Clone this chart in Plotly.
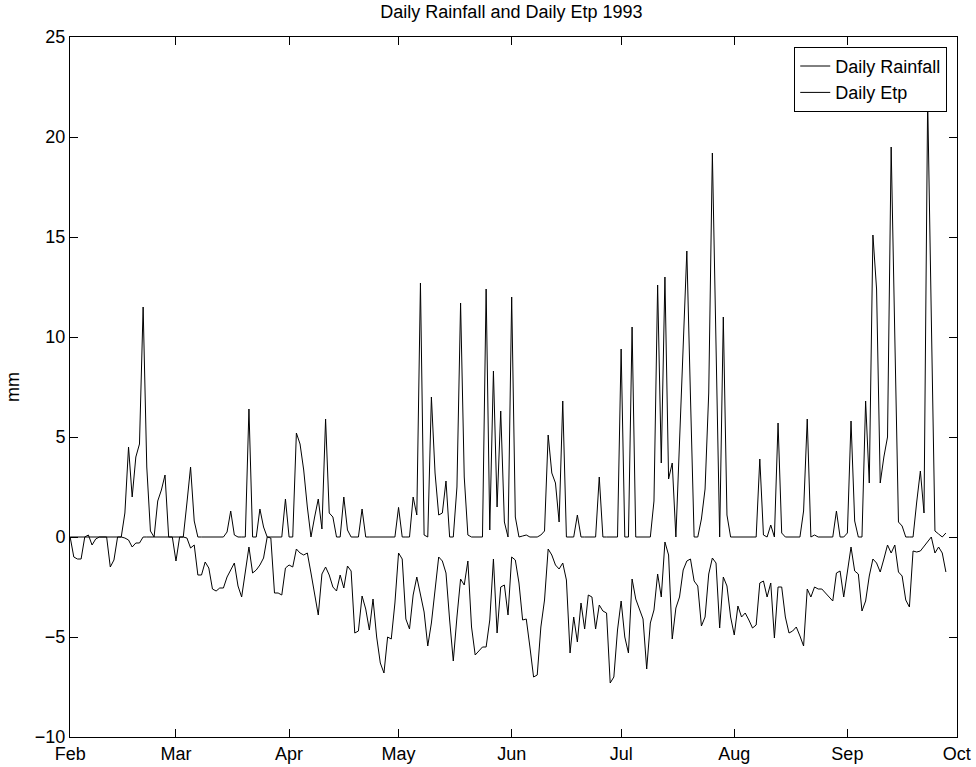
import pandas as pd
import plotly.graph_objects as go

start_date = "1993-01-31"

rainfall = [
    0, 0, 0, 0, 0, 0, 0, 0, 0, 0, 0, 0, 0, 0, 0,
    1.2, 4.5, 2.0, 4.0, 4.65, 11.5, 3.5, 0.3, 0, 1.8, 2.35, 3.1, 0, 0, 0,
    0, 0, 1.7, 3.5, 0.8, 0, 0, 0, 0, 0, 0, 0, 0, 0.25, 1.3,
    0.1, 0, 0, 0, 6.4, 0, 0, 1.4, 0.5, 0, 0, 0, 0, 0, 1.9,
    0, 0, 5.2, 4.65, 3.35, 1.5, 0, 1.0, 1.9, 0.4, 5.9, 1.2, 1.0, 0, 0,
    2.0, 0.35, 0, 0, 0, 1.4, 0, 0, 0, 0, 0, 0, 0, 0, 0,
    1.48, 0, 0, 0, 2.0, 1.1, 12.7, 0.1, 0, 7.0, 3.2, 1.1, 1.2, 2.8, 0,
    0, 2.5, 11.7, 3.0, 0.1, 0, 0, 0, 0, 12.4, 0.35, 8.3, 1.5, 6.3, 0.75,
    0, 12.0, 1.0, 0, 0.05, 0.1, 0, 0, 0, 0.1, 0.3, 5.1, 3.2, 2.7, 0.75,
    6.8, 0, 0, 0, 1.1, 0, 0, 0, 0, 0, 3.0, 0, 0, 0, 0,
    0, 9.4, 0, 0, 10.5, 0, 0, 0, 0, 0, 1.8, 12.6, 3.7, 13.0, 2.9,
    3.7, 0, 5.0, 9.0, 14.3, 7.0, 0, 0, 0.9, 2.4, 7.2, 19.2, 9.0, 0, 11.0,
    1.1, 0, 0, 0, 0, 0, 0, 0, 0, 3.9, 0.1, 0, 0.6, 0, 5.7,
    0.2, 0, 0, 0, 0, 0, 1.3, 5.9, 0, 0.1, 0, 0, 0, 0, 0,
    1.3, 0, 0, 0.2, 5.8, 0.8, 0, 0, 6.8, 2.7, 15.1, 12.4, 2.7, 4.0, 5.0,
    19.5, 10.0, 0.75, 0.55, 0, 0, 0, 1.75, 3.3, 1.2, 21.9, 11.0, 0.3, 0.15, 0,
    0.2,
]

etp = [
    0, -1.0, -1.1, -1.1, 0, 0.1, -0.4, -0.1, 0, 0, 0, -1.5, -1.15, 0, 0,
    -0.05, -0.15, -0.5, -0.3, -0.3, 0, 0, 0, 0, 0, 0, 0, 0, 0, -1.2,
    0, 0, -0.05, -0.55, -0.4, -1.9, -1.9, -1.25, -1.55, -2.6, -2.7, -2.55, -2.55, -2.0, -1.65,
    -1.3, -2.45, -3.0, -1.75, -0.5, -1.8, -1.65, -1.4, -1.05, 0, -0.05, -2.8, -2.8, -2.9, -1.55,
    -1.4, -1.5, -0.6, -0.8, -0.9, -0.8, -1.8, -2.9, -3.9, -1.85, -1.5, -1.9, -2.5, -2.7, -1.9,
    -2.55, -1.45, -1.7, -4.8, -4.7, -2.95, -3.6, -4.65, -3.1, -5.0, -6.3, -6.8, -5.0, -5.1, -3.3,
    -0.8, -1.1, -4.1, -4.6, -2.9, -2.0, -2.8, -3.75, -5.45, -4.3, -2.65, -1.0, -1.2, -1.8, -4.15,
    -6.2, -4.0, -2.1, -2.4, -1.2, -4.5, -5.9, -5.7, -5.5, -5.5, -4.15, -1.1, -4.8, -2.5, -2.4,
    -3.9, -1.0, -1.15, -2.3, -4.15, -4.1, -5.5, -7.0, -6.9, -4.5, -3.15, -0.6, -0.9, -1.4, -1.6,
    -1.3, -2.15, -5.8, -4.0, -5.25, -3.3, -4.6, -2.9, -3.0, -4.6, -3.4, -3.7, -3.8, -7.3, -7.0,
    -4.65, -3.2, -5.0, -5.8, -2.1, -3.1, -3.6, -4.1, -6.6, -4.3, -3.65, -1.85, -3.0, -0.25, -0.9,
    -5.1, -3.55, -3.0, -1.65, -1.2, -1.1, -2.2, -2.45, -4.45, -4.0, -1.85, -1.05, -1.3, -4.55, -2.0,
    -2.45, -4.0, -4.9, -3.45, -4.0, -3.8, -4.15, -4.55, -4.4, -2.3, -2.2, -3.0, -2.3, -5.05, -2.5,
    -2.5, -4.0, -4.8, -4.7, -4.5, -4.95, -5.45, -2.6, -3.0, -2.5, -2.6, -2.6, -2.8, -3.0, -3.2,
    -1.8, -1.7, -3.0, -1.75, -0.5, -1.7, -1.85, -3.7, -3.2, -1.95, -1.1, -1.3, -1.75, -1.1, -0.4,
    -0.8, -0.4, -1.75, -1.95, -3.15, -3.5, -0.7, -0.75, -0.7, -0.45, -0.2, 0, -0.8, -0.5, -0.8,
    -1.75,
]

tick_dates = ["1993-01-31", "1993-03-01", "1993-04-01", "1993-05-01", "1993-06-01",
              "1993-07-01", "1993-08-01", "1993-09-01", "1993-10-01"]
tick_labels = ["Feb", "Mar", "Apr", "May", "Jun", "Jul", "Aug", "Sep", "Oct"]

dates = pd.date_range(start_date, periods=len(rainfall), freq="D")

FONT = "Liberation Sans, Arial, Helvetica, sans-serif"

fig = go.Figure()
fig.add_trace(go.Scatter(x=dates, y=rainfall, mode="lines", name="Daily Rainfall",
                         line=dict(color="black", width=1)))
fig.add_trace(go.Scatter(x=dates, y=etp, mode="lines", name="Daily Etp",
                         line=dict(color="black", width=1)))

fig.update_layout(
    width=976, height=767,
    margin=dict(l=70, r=18.5, t=37.4, b=30.3, autoexpand=False),
    paper_bgcolor="white", plot_bgcolor="white",
    font=dict(family=FONT, size=18, color="black"),
    title=dict(text="Daily Rainfall and Daily Etp 1993", x=0.524, xanchor="center",
               y=0.993, yanchor="top", font=dict(size=18, color="black"),
               automargin=False),
    showlegend=True,
    legend=dict(x=0.989, xanchor="right", y=0.986, yanchor="top",
                bgcolor="white", bordercolor="black", borderwidth=1,
                font=dict(size=18), tracegroupgap=0, itemwidth=30),
)

fig.update_xaxes(
    type="date",
    range=["1993-01-30 23:00", "1993-10-01 01:00"],
    tickvals=tick_dates, ticktext=tick_labels,
    ticks="inside", ticklen=8, tickcolor="black", tickwidth=1,
    showline=True, linecolor="black", linewidth=1, mirror="ticks",
    showgrid=False, zeroline=False, automargin=False,
    tickfont=dict(size=18),
)
fig.update_yaxes(
    range=[-10, 25], dtick=5, tick0=0,
    ticks="inside", ticklen=8, tickcolor="black", tickwidth=1,
    showline=True, linecolor="black", linewidth=1, mirror="ticks",
    showgrid=False, zeroline=False, automargin=False,
    tickfont=dict(size=18),
    title=dict(text="mm", font=dict(size=18), standoff=10),
)

fig.write_html("out.html", config={"displayModeBar": False},
               post_script="document.body.style.margin='0';")
